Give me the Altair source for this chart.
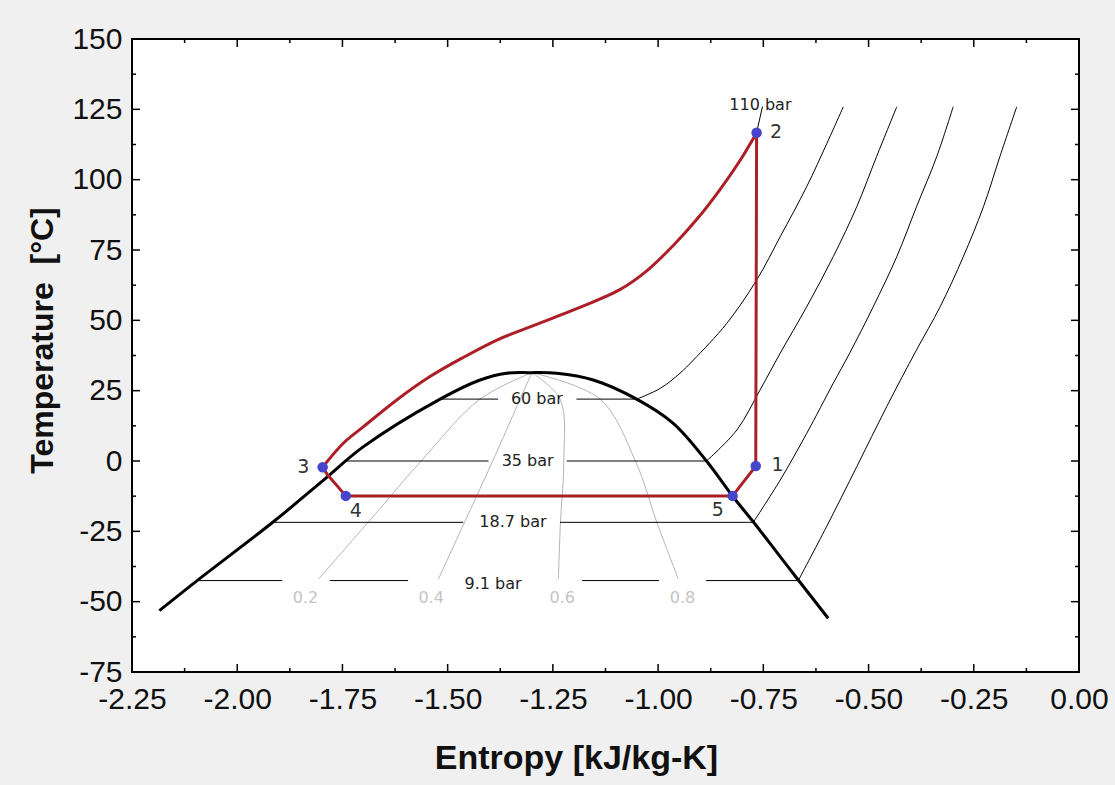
import altair as alt
import pandas as pd

# ---------------- data ----------------
# saturation dome
dome_s = [-2.185, -2.096, -1.914, -1.795, -1.700, -1.518, -1.423, -1.360, -1.304, -1.241,
          -1.154, -1.051, -0.964, -0.885, -0.822, -0.774, -0.710, -0.667, -0.596]
dome_T = [-53.2, -42.6, -21.6, -6.8, 5.1, 22.0, 28.8, 31.2, 31.4, 31.2,
          28.8, 22.0, 13.4, 0.0, -12.7, -21.6, -34.0, -42.3, -55.9]

# cycle: straight pieces (5 -> 1 -> 2) and (3 -> 4 -> 5)
cyc_a_s = [-0.823, -0.768, -0.766]
cyc_a_T = [-12.4, -1.8, 116.7]
cyc_b_s = [-1.797, -1.785, -1.742, -0.823]
cyc_b_T = [-2.2, -5.0, -12.4, -12.4]
# cycle: gas cooler curve 2 -> 3
cyc_gc_s = [-0.766, -0.805, -0.853, -0.908, -0.964, -1.027, -1.091, -1.186,
            -1.304, -1.383, -1.463, -1.542, -1.621, -1.700, -1.748, -1.797]
cyc_gc_T = [116.7, 106.9, 96.5, 85.9, 76.6, 67.6, 60.9, 54.6,
            47.7, 43.0, 36.8, 30.0, 21.7, 12.2, 6.3, -2.2]

# state points
pt_label = ["1", "2", "3", "4", "5"]
pt_s = [-0.768, -0.766, -1.797, -1.742, -0.823]
pt_T = [-1.8, 116.7, -2.2, -12.4, -12.4]
pt_lab_s = [-0.716, -0.720, -1.843, -1.718, -0.858]
pt_lab_T = [-1.4, 117.0, -2.0, -17.6, -17.4]

# isobars: horizontal pieces inside the dome (gaps where labels sit)
iso60_a_s = [-1.518, -1.380]
iso60_b_s = [-1.194, -1.051]
iso60_h_T = [22.0, 22.0]
iso35_a_s = [-1.741, -1.403]
iso35_b_s = [-1.217, -0.885]
iso35_h_T = [0.0, 0.0]
iso187_a_s = [-1.918, -1.463]
iso187_b_s = [-1.233, -0.774]
iso187_h_T = [-21.8, -21.8]
iso91_a_s = [-2.092, -1.893]
iso91_b_s = [-1.780, -1.594]
iso91_c_s = [-1.181, -0.998]
iso91_d_s = [-0.886, -0.667]
iso91_h_T = [-42.5, -42.5]
# isobars: superheated curves
iso60_sh_s = [-1.051, -0.995, -0.948, -0.916, -0.837, -0.766, -0.710, -0.647, -0.599, -0.560]
iso60_sh_T = [22.0, 25.8, 31.2, 35.9, 48.9, 64.3, 79.7, 97.5, 112.9, 125.9]
iso35_sh_s = [-0.885, -0.813, -0.758, -0.710, -0.647, -0.584, -0.528, -0.481, -0.433]
iso35_sh_T = [0.0, 11.0, 25.2, 38.3, 54.8, 72.6, 90.4, 108.2, 125.9]
iso187_sh_s = [-0.774, -0.710, -0.647, -0.584, -0.545, -0.489, -0.433, -0.386, -0.338, -0.299]
iso187_sh_T = [-21.8, -6.8, 9.8, 27.6, 38.3, 54.8, 72.6, 90.4, 108.2, 125.9]
iso91_sh_s = [-0.667, -0.600, -0.528, -0.457, -0.386, -0.330, -0.275, -0.227, -0.188, -0.148]
iso91_sh_T = [-42.5, -23.4, -2.0, 19.3, 39.5, 54.8, 72.6, 90.4, 108.2, 125.9]
iso110_s = [-0.766, -0.752]
iso110_T = [116.7, 126.0]

iso_label = ["110 bar", "60 bar", "35 bar", "18.7 bar", "9.1 bar"]
iso_lab_s = [-0.757, -1.288, -1.310, -1.345, -1.392]
iso_lab_T = [126.4, 22.0, 0.0, -21.8, -43.8]

# quality lines
q_T = [-42.0, -21.8, 0.0, 22.0, 31.4]
q02_s = [-1.807, -1.689, -1.563, -1.423, -1.300]
q04_s = [-1.522, -1.460, -1.393, -1.328, -1.300]
q06_s = [-1.237, -1.232, -1.224, -1.233, -1.300]
q08_s = [-0.952, -1.003, -1.054, -1.138, -1.300]
q_label = ["0.2", "0.4", "0.6", "0.8"]
q_lab_s = [-1.838, -1.539, -1.228, -0.942]
q_lab_T = [-48.6, -48.6, -48.6, -48.6]

# axis ticks
x_major = [-2.25, -2.0, -1.75, -1.5, -1.25, -1.0, -0.75, -0.5, -0.25, 0.0]
x_minor = [-2.125, -1.875, -1.625, -1.375, -1.125, -0.875, -0.625, -0.375, -0.125]
y_major = [-75, -50, -25, 0, 25, 50, 75, 100, 125, 150]
y_minor = [-62.5, -37.5, -12.5, 12.5, 37.5, 62.5, 87.5, 112.5, 137.5]

# ---------------- build tables ----------------
def seg_table(pairs):
    rows = []
    for name, ss, tt in pairs:
        for i, (a, b) in enumerate(zip(ss, tt)):
            rows.append({"seg": name, "i": i, "s": a, "T": b})
    return pd.DataFrame(rows)

dome_df = seg_table([("dome", dome_s, dome_T)])
cyc_lin_df = seg_table([("a", cyc_a_s, cyc_a_T), ("b", cyc_b_s, cyc_b_T)])
cyc_gc_df = seg_table([("gc", cyc_gc_s, cyc_gc_T)])
iso_lin_df = seg_table([
    ("60a", iso60_a_s, iso60_h_T), ("60b", iso60_b_s, iso60_h_T),
    ("35a", iso35_a_s, iso35_h_T), ("35b", iso35_b_s, iso35_h_T),
    ("18a", iso187_a_s, iso187_h_T), ("18b", iso187_b_s, iso187_h_T),
    ("9a", iso91_a_s, iso91_h_T), ("9b", iso91_b_s, iso91_h_T),
    ("9c", iso91_c_s, iso91_h_T), ("9d", iso91_d_s, iso91_h_T),
    ("110", iso110_s, iso110_T),
])
iso_sh_df = seg_table([
    ("60", iso60_sh_s, iso60_sh_T), ("35", iso35_sh_s, iso35_sh_T),
    ("18", iso187_sh_s, iso187_sh_T), ("9", iso91_sh_s, iso91_sh_T),
])
q_df = seg_table([("q02", q02_s, q_T), ("q04", q04_s, q_T), ("q06", q06_s, q_T), ("q08", q08_s, q_T)])
pt_df = pd.DataFrame({"s": pt_s, "T": pt_T})
ptlab_df = pd.DataFrame({"s": pt_lab_s, "T": pt_lab_T, "label": pt_label})
isolab_df = pd.DataFrame({"s": iso_lab_s, "T": iso_lab_T, "label": iso_label})
qlab_df = pd.DataFrame({"s": q_lab_s, "T": q_lab_T, "label": q_label})
xmaj_df = pd.DataFrame({"s": x_major})
xmin_df = pd.DataFrame({"s": x_minor})
ymaj_df = pd.DataFrame({"T": y_major})
ymin_df = pd.DataFrame({"T": y_minor})

W, H = 947, 633
LABEL_FONT = "Liberation Sans"
MINUS_FIX = "replace(datum.label, '\u2212', '-')"

x_axis = alt.Axis(
    values=x_major, format=".2f", labelExpr=MINUS_FIX, title="Entropy [kJ/kg-K]",
    ticks=False, tickSize=0, domain=False, grid=False,
    labelFont=LABEL_FONT, labelFontSize=30, labelColor="#111111", labelPadding=12,
    labelFlush=False, labelOverlap=False,
    titleFont=LABEL_FONT, titleFontSize=34, titleFontWeight="bold", titleColor="#111111",
    titleX=444, titleY=86, titleAlign="center", titleBaseline="middle", titleAnchor="start",
)
y_axis = alt.Axis(
    values=y_major, format="d", labelExpr=MINUS_FIX, title="Temperature\u00a0 [°C]",
    ticks=False, tickSize=0, domain=False, grid=False,
    labelFont=LABEL_FONT, labelFontSize=30, labelColor="#111111", labelPadding=10,
    labelFlush=False, labelOverlap=False,
    titleFont=LABEL_FONT, titleFontSize=32, titleFontWeight="bold", titleColor="#111111",
    titleAngle=270, titleX=-90, titleY=301, titleAlign="center", titleBaseline="middle",
    titleAnchor="start",
)
xs = alt.Scale(domain=[-2.25, 0.0], nice=False, zero=False)
ys = alt.Scale(domain=[-75, 150], nice=False, zero=False)
X = alt.X("s:Q", scale=xs, axis=x_axis)
Y = alt.Y("T:Q", scale=ys, axis=y_axis)

RED = "#ad1f28"
SMOOTH = "catmull-rom"

quality = alt.Chart(q_df).mark_line(color="#b5b5b5", strokeWidth=1, interpolate=SMOOTH).encode(
    x=X, y=Y, detail="seg:N", order="i:Q")
iso_lin = alt.Chart(iso_lin_df).mark_line(color="#000000", strokeWidth=1).encode(
    x=X, y=Y, detail="seg:N", order="i:Q")
iso_sh = alt.Chart(iso_sh_df).mark_line(color="#000000", strokeWidth=1, interpolate=SMOOTH).encode(
    x=X, y=Y, detail="seg:N", order="i:Q")
dome = alt.Chart(dome_df).mark_line(color="#000000", strokeWidth=3, interpolate=SMOOTH).encode(
    x=X, y=Y, order="i:Q")
cyc_lin = alt.Chart(cyc_lin_df).mark_line(color=RED, strokeWidth=3, strokeJoin="round").encode(
    x=X, y=Y, detail="seg:N", order="i:Q")
cyc_gc = alt.Chart(cyc_gc_df).mark_line(color=RED, strokeWidth=3, interpolate=SMOOTH).encode(
    x=X, y=Y, order="i:Q")
points = alt.Chart(pt_df).mark_circle(color="#4646cc", size=110, opacity=1).encode(x=X, y=Y)
pt_text = alt.Chart(ptlab_df).mark_text(font="DejaVu Sans", fontSize=19, color="#333333").encode(
    x=X, y=Y, text="label:N")
iso_text = alt.Chart(isolab_df).mark_text(font="DejaVu Sans", fontSize=16, color="#222222").encode(
    x=X, y=Y, text="label:N")
q_text = alt.Chart(qlab_df).mark_text(font="DejaVu Sans", fontSize=16, color="#c4c4c4").encode(
    x=X, y=Y, text="label:N")

tick_w = 1.5
xt_bot = alt.Chart(xmaj_df).mark_rule(color="black", strokeWidth=tick_w).encode(
    x=X, y=alt.value(H), y2=alt.value(H - 8))
xt_top = alt.Chart(xmaj_df).mark_rule(color="black", strokeWidth=tick_w).encode(
    x=X, y=alt.value(0), y2=alt.value(8))
xm_bot = alt.Chart(xmin_df).mark_rule(color="black", strokeWidth=tick_w).encode(
    x=X, y=alt.value(H), y2=alt.value(H - 4))
xm_top = alt.Chart(xmin_df).mark_rule(color="black", strokeWidth=tick_w).encode(
    x=X, y=alt.value(0), y2=alt.value(4))
yt_left = alt.Chart(ymaj_df).mark_rule(color="black", strokeWidth=tick_w).encode(
    y=Y, x=alt.value(0), x2=alt.value(8))
yt_right = alt.Chart(ymaj_df).mark_rule(color="black", strokeWidth=tick_w).encode(
    y=Y, x=alt.value(W), x2=alt.value(W - 8))
ym_left = alt.Chart(ymin_df).mark_rule(color="black", strokeWidth=tick_w).encode(
    y=Y, x=alt.value(0), x2=alt.value(4))
ym_right = alt.Chart(ymin_df).mark_rule(color="black", strokeWidth=tick_w).encode(
    y=Y, x=alt.value(W), x2=alt.value(W - 4))

chart = alt.layer(
    quality, iso_lin, iso_sh, dome, cyc_lin, cyc_gc, points, pt_text, iso_text, q_text,
    xt_bot, xt_top, xm_bot, xm_top, yt_left, yt_right, ym_left, ym_right,
).properties(
    width=W, height=H,
    autosize=alt.AutoSizeParams(type="none"),
    padding={"left": 132, "top": 39, "right": 36, "bottom": 113},
    background="#f0f0f0",
).configure_view(fill="white", stroke="black", strokeWidth=2)

chart.save("out.html", embed_options={"renderer": "svg", "actions": False})
